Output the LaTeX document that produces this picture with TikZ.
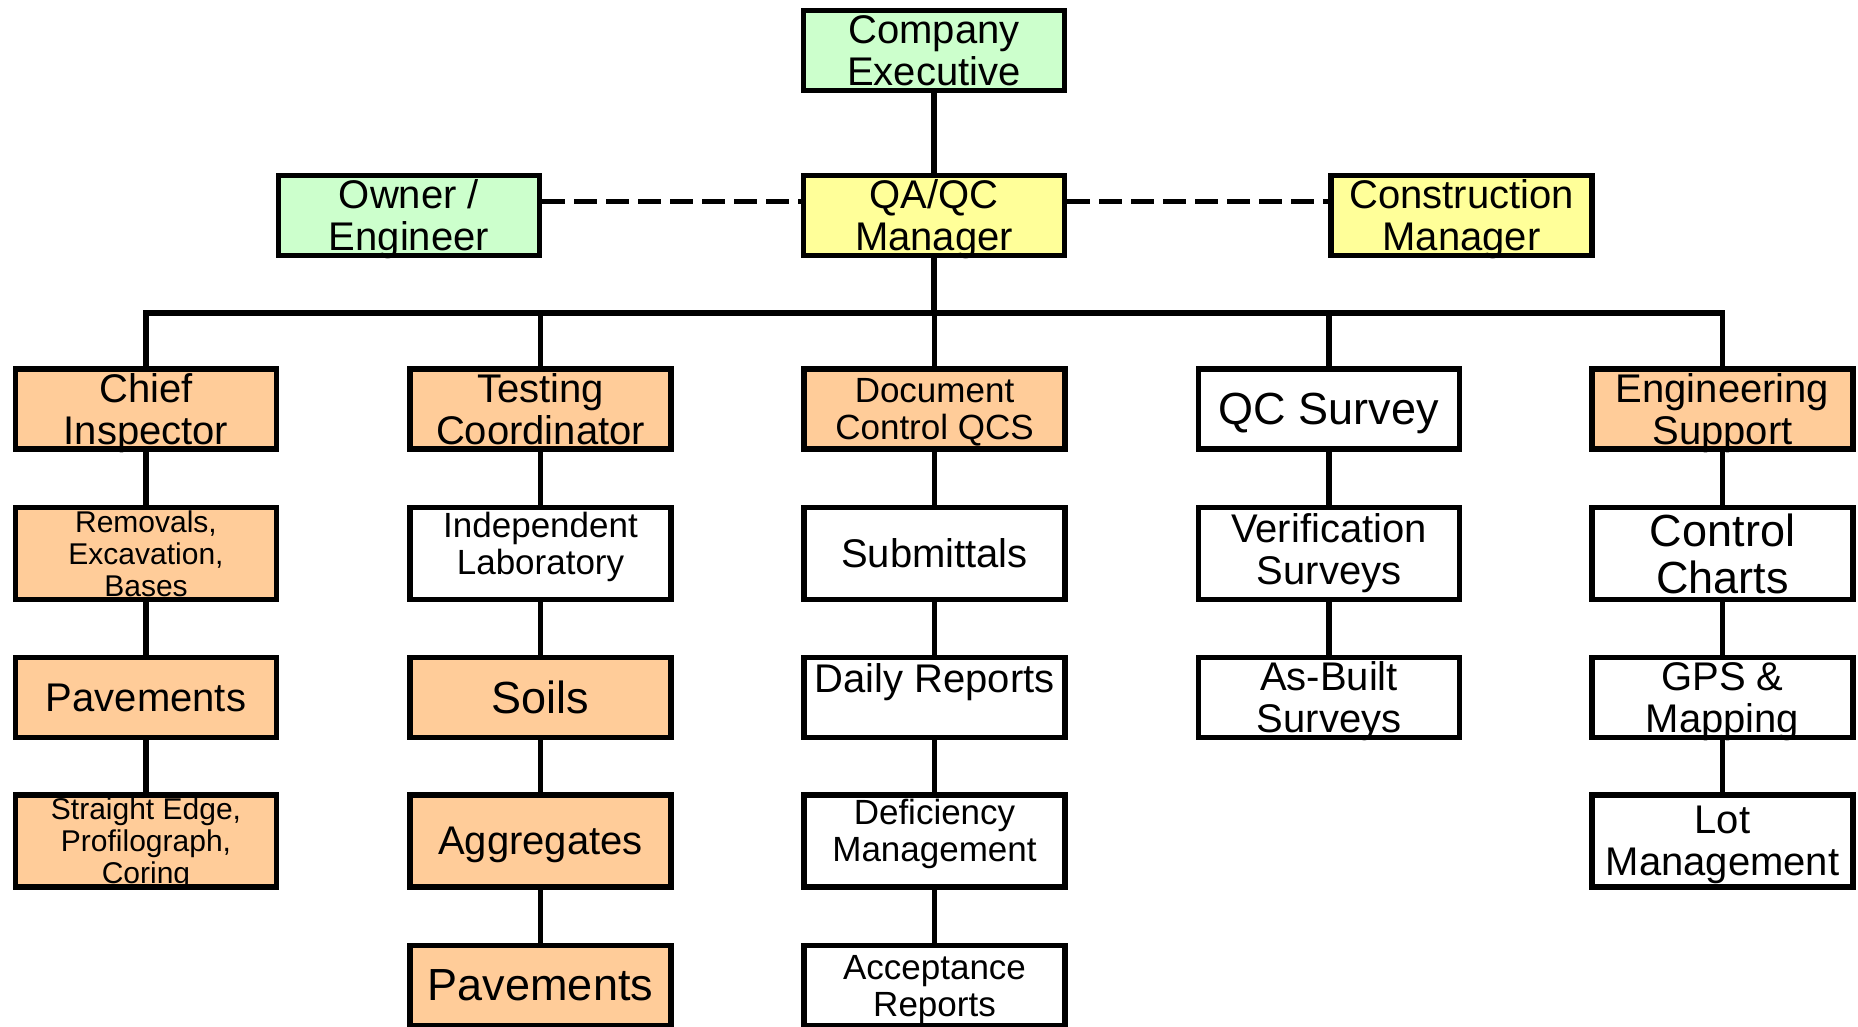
\documentclass[tikz,border=0pt]{standalone}
\usepackage{fontspec}
\setmainfont{Liberation Sans}
\definecolor{mintgreen}{HTML}{CCFFCC}
\definecolor{paleyellow}{HTML}{FFFF99}
\definecolor{peach}{HTML}{FFCC99}

\begin{document}
\begin{tikzpicture}[x=0.5pt,y=-0.5pt,
    box/.style={draw, line width=2.6pt, minimum width=130.5pt, minimum height=40pt,
      inner sep=0pt, text depth=0pt, align=center, font=\fontsize{20}{21}\selectfont},
    tall/.style={minimum height=46pt},
    greenbox/.style={box, fill=mintgreen},
    yellowbox/.style={box, fill=paleyellow},
    peachbox/.style={box, fill=peach},
    whitebox/.style={box, fill=white},
    bigtext/.style={font=\fontsize{22.5}{23.5}\selectfont},
    midtext/.style={font=\fontsize{17.5}{18.5}\selectfont},
    smalltext/.style={font=\fontsize{15}{16}\selectfont},
    raised/.style={text height=33pt, text depth=12.5pt},
    link/.style={line width=2.6pt},
    dotted link/.style={link, dash pattern=on 11.5pt off 4.5pt}]
  \useasboundingbox (0,0) rectangle (1858,1027);

  % top of the chart
  \node[greenbox] (exec) at (934,50.5) {Company\\Executive};
  \node[yellowbox] (qaqc) at (934,215.5) {QA/QC\\Manager};
  \node[greenbox] (owner) at (409,215.5) {Owner /\\Engineer};
  \node[yellowbox] (cons) at (1461.5,215.5) {Construction\\Manager};
  \coordinate (bus) at (0,313);

  % first row
  \node[peachbox] (chief) at (146,409) {Chief\\Inspector};
  \node[peachbox] (testing) at (540.5,409) {Testing\\Coordinator};
  \node[peachbox, midtext] (doc) at (934.5,409) {Document\\Control QCS};
  \node[whitebox, bigtext] (qcsurv) at (1329,409) {QC Survey};
  \node[peachbox] (engsup) at (1722.5,409) {Engineering\\Support};

  % second row
  \node[peachbox, tall, smalltext] (removals) at (146,553.5) {Removals,\\Excavation,\\Bases};
  \node[whitebox, tall, midtext, raised] (lab) at (540.5,553.5) {Independent\\Laboratory};
  \node[whitebox, tall] (subm) at (934.5,553.5) {Submittals};
  \node[whitebox, tall, text depth=4pt] (verif) at (1329,553.5) {Verification\\Surveys};
  \node[whitebox, tall, font=\fontsize{22.5}{23.5}\selectfont] (ctrl) at (1722.5,553.5) {Control\\Charts};

  % third row
  \node[peachbox] (pave1) at (146,697.5) {Pavements};
  \node[peachbox, bigtext] (soils) at (540.5,697.5) {Soils};
  \node[whitebox, text height=15pt, text depth=20pt] (daily) at (934.5,697.5) {Daily Reports};
  \node[whitebox] (asbuilt) at (1329,697.5) {As-Built\\Surveys};
  \node[whitebox] (gps) at (1722.5,697.5) {GPS \&\\Mapping};

  % fourth row
  \node[peachbox, tall, smalltext] (straight) at (146,841) {Straight Edge,\\Profilograph,\\Coring};
  \node[peachbox, tall] (aggr) at (540.5,841) {Aggregates};
  \node[whitebox, tall, midtext, raised] (defic) at (934.5,841) {Deficiency\\Management};
  \node[whitebox, tall] (lot) at (1722.5,841) {Lot\\Management};

  % fifth row
  \node[peachbox, bigtext] (pave2) at (540.5,985.5) {Pavements};
  \node[whitebox, midtext] (accept) at (934.5,985.5) {Acceptance\\Reports};

  % connectors
  \draw[link] (exec) -- (qaqc);
  \draw[dotted link] ([yshift=7pt]owner.east) -- ([yshift=7pt]qaqc.west);
  \draw[dotted link] ([yshift=7pt]qaqc.east) -- ([yshift=7pt]cons.west);
  \draw[link] (qaqc) -- (qaqc |- bus);
  \draw[link] (chief) -- (chief |- bus) -- (engsup |- bus) -- (engsup);
  \foreach \col in {testing, doc, qcsurv}
    \draw[link] (\col) -- (\col |- bus);
  \foreach \a/\b in {chief/removals, removals/pave1, pave1/straight,
      testing/lab, lab/soils, soils/aggr, aggr/pave2,
      doc/subm, subm/daily, daily/defic, defic/accept,
      qcsurv/verif, verif/asbuilt,
      engsup/ctrl, ctrl/gps, gps/lot}
    \draw[link] (\a) -- (\b);
\end{tikzpicture}
\end{document}
